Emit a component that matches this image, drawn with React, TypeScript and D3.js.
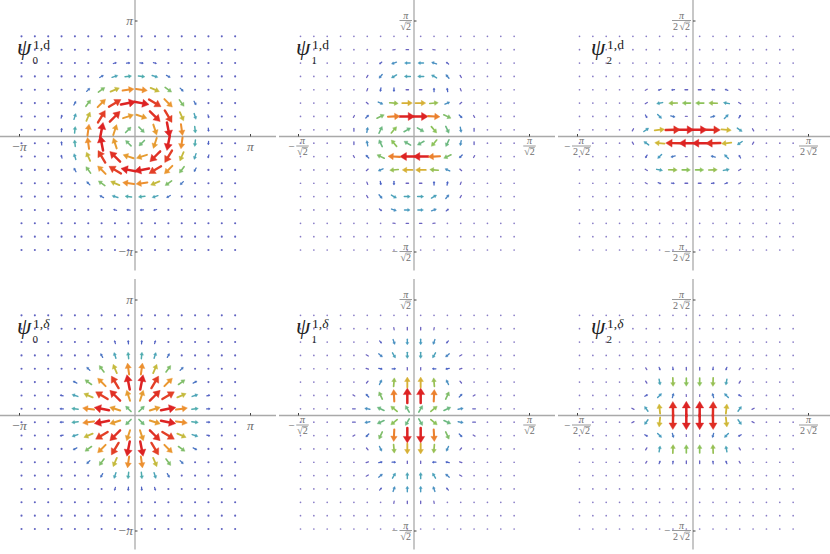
import React from "react";
import * as d3 from "d3";

const WIDTH = 830;
const HEIGHT = 554;

// grid sample offsets, in grid steps from the origin
const GRID_OFFSETS = [-8.5, -7.5, -6.5, -5.5, -4.5, -3.5, -2.5, -1.5, -0.5, 0.5, 1.5, 2.5, 3.5, 4.5, 5.5, 6.5, 7.5];
const STEPS_PER_TICK = 8.65;

// upper-right quadrant of the curl-free (δ) field: [x step, y step, relative magnitude, angle in degrees]
type Q = [number, number, number, number];
const PSI0_QUADRANT: Q[] = [
  [0.5, 0.5, 0.36, 45], [1.5, 0.5, 0.62, 18], [2.5, 0.5, 1.0, 11], [3.5, 0.5, 0.66, 8], [4.5, 0.5, 0.28, 6], [5.5, 0.5, 0.11, 5],
  [0.5, 1.5, 0.62, 72], [1.5, 1.5, 0.95, 45], [2.5, 1.5, 0.9, 31], [3.5, 1.5, 0.5, 23], [4.5, 1.5, 0.25, 18], [5.5, 1.5, 0.1, 15],
  [0.5, 2.5, 1.0, 79], [1.5, 2.5, 0.9, 59], [2.5, 2.5, 0.64, 45], [3.5, 2.5, 0.38, 36], [4.5, 2.5, 0.15, 29],
  [0.5, 3.5, 0.66, 82], [1.5, 3.5, 0.5, 67], [2.5, 3.5, 0.38, 54], [3.5, 3.5, 0.16, 45],
  [0.5, 4.5, 0.28, 84], [1.5, 4.5, 0.25, 72], [2.5, 4.5, 0.15, 61],
  [0.5, 5.5, 0.11, 85], [1.5, 5.5, 0.1, 75],
];
const PSI1_QUADRANT: Q[] = [
  [0.5, 0.5, 0.35, 60], [1.5, 0.5, 0.4, 40], [2.5, 0.5, 0.35, 25], [3.5, 0.5, 0.2, 10], [4.5, 0.5, 0.07, 0],
  [0.5, 1.5, 1.0, 90], [1.5, 1.5, 0.7, 87], [2.5, 1.5, 0.38, 65], [3.5, 1.5, 0.14, 45], [4.5, 1.5, 0.05, 30],
  [0.5, 2.5, 0.55, 90], [1.5, 2.5, 0.42, 95], [2.5, 2.5, 0.2, 115], [3.5, 2.5, 0.06, 130],
  [0.5, 3.5, 0.06, 90], [1.5, 3.5, 0.12, 180], [2.5, 3.5, 0.12, 190], [3.5, 3.5, 0.06, 200],
  [0.5, 4.5, 0.25, -90], [1.5, 4.5, 0.24, -120], [2.5, 4.5, 0.18, -140], [3.5, 4.5, 0.06, -150],
  [0.5, 5.5, 0.22, -90], [1.5, 5.5, 0.2, -110], [2.5, 5.5, 0.09, -130],
  [0.5, 6.5, 0.06, -90], [1.5, 6.5, 0.05, -100],
];
const PSI2_QUADRANT: Q[] = [
  [0.5, 0.5, 1.0, 90], [1.5, 0.5, 0.96, 89], [2.5, 0.5, 0.52, 84], [3.5, 0.5, 0.24, 55], [4.5, 0.5, 0.06, 30],
  [0.5, 1.5, 0.04, 90], [1.5, 1.5, 0.16, 105], [2.5, 1.5, 0.22, 135], [3.5, 1.5, 0.1, 150],
  [0.5, 2.5, 0.4, -90], [1.5, 2.5, 0.42, -92], [2.5, 2.5, 0.25, -100], [3.5, 2.5, 0.06, -120],
  [0.5, 3.5, 0.07, -90], [1.5, 3.5, 0.09, -95], [2.5, 3.5, 0.09, -110], [3.5, 3.5, 0.05, -120],
];

const QUADRANTS = [PSI0_QUADRANT, PSI1_QUADRANT, PSI2_QUADRANT];
const FAR_MAGNITUDES = [0.08, 0.03, 0.03];
const TICK_VALUES = [Math.PI, Math.PI / Math.SQRT2, Math.PI / (2 * Math.SQRT2)];
const ORDERS = [0, 1, 2];
const KINDS = ["d", "δ"];

const COLOR_STOPS = [0, 0.06, 0.12, 0.22, 0.3, 0.4, 0.52, 0.65, 0.8, 1];
const COLOR_VALUES = ["#a493cc", "#6a62c0", "#4a62c4", "#4a9cc0", "#4fb0a8", "#8cc25a", "#d0b838", "#ec9430", "#e85a2a", "#dd2323"];

const color = d3.scaleLinear<string>().domain(COLOR_STOPS).range(COLOR_VALUES).interpolate(d3.interpolateRgb).clamp(true);
const LMAX = 15;
const lengthScale = d3.scalePow().exponent(0.65).domain([0, 1]).range([0, LMAX]);

const TICK_PX = 115.5;
const SERIF = "'Liberation Serif', 'DejaVu Serif', serif";
const LABEL = "#6e6e6e";

function Arrow({ px, py, ux, uy, m }: { px: number; py: number; ux: number; uy: number; m: number }) {
  const L = lengthScale(m);
  const c = color(m);
  if (L < 3) {
    const h = Math.max(L, 1.6) / 2;
    return <line x1={px - ux * h} y1={py - uy * h} x2={px + ux * h} y2={py + uy * h} stroke={c} strokeWidth={1.3} strokeLinecap="round" />;
  }
  const hl = 0.44 * L;
  const hw = 0.27 * L;
  const tx = px - (ux * L) / 2, ty = py - (uy * L) / 2;
  const hx = px + (ux * L) / 2, hy = py + (uy * L) / 2;
  const bx = hx - ux * hl, by = hy - uy * hl;
  const nx = -uy, ny = ux;
  const sw = 1.1 + 1.4 * m;
  return (
    <g>
      <line x1={tx} y1={ty} x2={bx + ux * 0.5} y2={by + uy * 0.5} stroke={c} strokeWidth={sw} strokeLinecap="round" />
      <path d={`M${hx},${hy}L${bx + nx * hw},${by + ny * hw}L${bx - nx * hw},${by - ny * hw}Z`} fill={c} stroke={c} strokeWidth={0.4} strokeLinejoin="round" />
    </g>
  );
}

function Fraction({ cx, barY, order, fill }: { cx: number; barY: number; order: number; fill: string }) {
  const fs = 10;
  const denW = order === 1 ? 10.5 : 17;
  const x0 = cx - denW / 2;
  const sqrtX = order === 1 ? x0 : x0 + 6.5;
  return (
    <g fill={fill} fontFamily={SERIF} fontSize={fs}>
      <text x={cx} y={barY - 2} textAnchor="middle" fontStyle="italic">π</text>
      <line x1={cx - denW / 2 - 1} x2={cx + denW / 2 + 1} y1={barY} y2={barY} stroke={fill} strokeWidth={0.7} />
      {order === 2 && <text x={x0} y={barY + 9}>2</text>}
      <text x={sqrtX} y={barY + 9}>√</text>
      <text x={sqrtX + 5.5} y={barY + 9}>2</text>
      <line x1={sqrtX + 5.2} x2={sqrtX + 10.6} y1={barY + 1.6} y2={barY + 1.6} stroke={fill} strokeWidth={0.6} />
    </g>
  );
}

function TickLabel({ x, y, negative, order, mode }: { x: number; y: number; negative: boolean; order: number; mode: "below" | "left" }) {
  if (order === 0) {
    if (mode === "below") {
      return (
        <text x={x} y={y + 14} textAnchor="middle" fontFamily={SERIF} fontSize={13.5} fill={LABEL}>
          {negative ? "−" : ""}<tspan fontStyle="italic">π</tspan>
        </text>
      );
    }
    return (
      <text x={x} y={y + 4} textAnchor="end" fontFamily={SERIF} fontSize={13.5} fill={LABEL}>
        {negative ? "−" : ""}<tspan fontStyle="italic">π</tspan>
      </text>
    );
  }
  const fracW = (order === 1 ? 10.5 : 17) + 2;
  const minusW = negative ? 8 : 0;
  const total = fracW + minusW;
  let left: number, barY: number;
  if (mode === "below") {
    left = x - total / 2;
    barY = y + 9.5;
  } else {
    left = x - total;
    barY = y - 0.5;
  }
  const fcx = left + minusW + fracW / 2;
  return (
    <g>
      {negative && (
        <text x={left} y={barY + 3.5} fontFamily={SERIF} fontSize={11} fill={LABEL}>−</text>
      )}
      <Fraction cx={fcx} barY={barY} order={order} fill={LABEL} />
    </g>
  );
}

function Panel({ order, kind, cx, cy }: { order: number; kind: string; cx: number; cy: number }) {
  const tick = TICK_VALUES[order];
  const x = d3.scaleLinear().domain([-tick, tick]).range([cx - TICK_PX, cx + TICK_PX]);
  const y = d3.scaleLinear().domain([-tick, tick]).range([cy + TICK_PX, cy - TICK_PX]);
  const step = tick / STEPS_PER_TICK;
  const quadrant = QUADRANTS[order];
  const filled = new Set<string>();
  const arrows: { gx: number; gy: number; u: number; v: number; m: number }[] = [];
  for (const [ix, iy, m, a] of quadrant) {
    const u0 = Math.cos((a * Math.PI) / 180);
    const v0 = Math.sin((a * Math.PI) / 180);
    for (const sx of [1, -1]) {
      for (const sy of [1, -1]) {
        const gx = sx * ix, gy = sy * iy;
        let u = sx * u0, v = sy * v0;
        if (kind === "d") {
          const t = u;
          u = v;
          v = -t;
        }
        filled.add(`${gx},${gy}`);
        arrows.push({ gx, gy, u, v, m });
      }
    }
  }
  const far: { gx: number; gy: number }[] = [];
  for (const gx of GRID_OFFSETS) for (const gy of GRID_OFFSETS) if (!filled.has(`${gx},${gy}`)) far.push({ gx, gy });
  const farM = FAR_MAGNITUDES[order];
  const titleX = order === 2 ? cx - 102 : cx - 118;
  const titleY = cy - 82;
  return (
    <g>
      <line x1={cx - 135} x2={cx + 141} y1={cy} y2={cy} stroke="#a9a9a9" strokeWidth={1.3} />
      <line x1={cx} x2={cx} y1={cy - 136.5} y2={cy + 134} stroke="#a9a9a9" strokeWidth={1.3} />
      {[-tick, tick].map((t) => (
        <g key={t}>
          <line x1={x(t)} x2={x(t)} y1={cy} y2={cy - 2.5} stroke="#444" strokeWidth={1} />
          <line x1={cx} x2={cx + 2.5} y1={y(t)} y2={y(t)} stroke="#444" strokeWidth={1} />
          <TickLabel x={x(t)} y={cy} negative={t < 0} order={order} mode="below" />
          <TickLabel x={cx - 2} y={y(t)} negative={t < 0} order={order} mode="left" />
        </g>
      ))}
      {far.map((p, i) => (
        <circle key={"f" + i} cx={x(p.gx * step)} cy={y(p.gy * step)} r={order === 0 ? 1.05 : 0.85} fill={color(farM)} />
      ))}
      {arrows.map((a, i) => (
        <Arrow key={"a" + i} px={x(a.gx * step)} py={y(a.gy * step)} ux={a.u} uy={-a.v} m={a.m} />
      ))}
      <text x={titleX} y={titleY} fontFamily={SERIF} fontStyle="italic" fontSize={23} fill="#222">ψ</text>
      <text x={titleX + 16} y={titleY - 5.5} fontFamily={SERIF} fontSize={13.5} fill="#222">
        1,{kind === "δ" ? <tspan fontStyle="italic">δ</tspan> : "d"}
      </text>
      <text x={titleX + 15.5} y={titleY + 9} fontFamily={SERIF} fontSize={11} fill="#222">{order}</text>
    </g>
  );
}

export default function App() {
  const X0 = 135, DX = 279, Y0 = 136.5, DY = 279;
  return (
    <svg width={WIDTH} height={HEIGHT} viewBox={`0 0 ${WIDTH} ${HEIGHT}`} style={{ position: "absolute", left: 0, top: 0, background: "#fff" }}>
      {KINDS.map((kind, r) =>
        ORDERS.map((order) => <Panel key={kind + order} order={order} kind={kind} cx={X0 + order * DX} cy={Y0 + r * DY} />)
      )}
    </svg>
  );
}
